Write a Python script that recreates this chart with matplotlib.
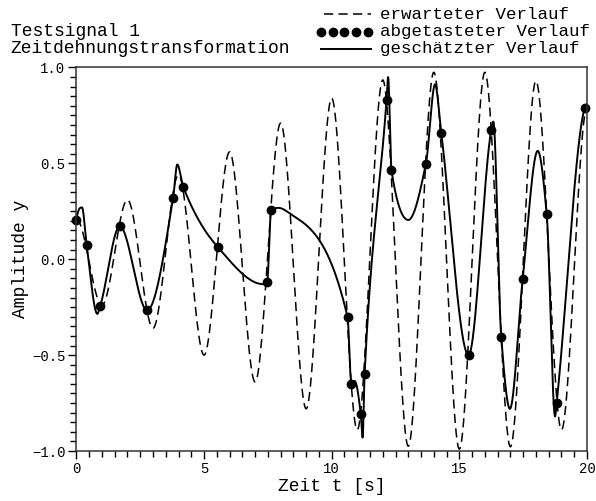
import numpy as np
import matplotlib
matplotlib.use('Agg')
import matplotlib.pyplot as plt
from matplotlib.lines import Line2D
from matplotlib.ticker import MultipleLocator, FuncFormatter

plt.rcParams['font.family'] = ['Liberation Mono', 'DejaVu Sans Mono']

soll_t = [0, 1, 2, 3, 4, 5, 6, 7, 8, 9, 10, 11, 12, 13, 14, 15, 16, 17, 18, 19, 20]
soll_y = [0.21, -0.24, 0.31, -0.36, 0.44, -0.50, 0.56, -0.64, 0.71, -0.78, 0.84,
          -0.89, 0.935, -0.975, 0.975, -0.99, 0.975, -0.978, 0.93, -0.89, 0.79]

# abgetasteter Verlauf: Abtastpunkte
abt_t = [0.0, 0.40, 0.93, 1.70, 2.77, 3.79, 4.19, 5.54, 7.47, 7.63, 10.62, 10.77,
         11.14, 11.29, 12.15, 12.34, 13.69, 14.29, 15.36, 16.25, 16.64, 17.48,
         18.42, 18.81, 19.92]
abt_y = [0.205, 0.076, -0.245, 0.172, -0.266, 0.321, 0.376, 0.063, -0.12, 0.256,
         -0.301, -0.65, -0.809, -0.597, 0.833, 0.464, 0.499, 0.660, -0.50, 0.673,
         -0.405, -0.104, 0.238, -0.75, 0.79]

# geschätzter Verlauf: zusätzliche abgelesene Stützpunkte (Extrema usw.)
sch_t_extra = [0.22, 0.82, 3.95, 7.32, 7.91, 8.35,
               10.90, 11.21, 12.21, 13.0, 14.05, 16.33, 16.98, 18.07, 18.75, 20.0]
sch_y_extra = [0.27, -0.285, 0.494, -0.13, 0.268, 0.24,
               -0.635, -0.93, 0.95, 0.205, 0.912, 0.718, -0.78, 0.565, -0.82, 0.81]


def pchip(x, y, xn, flat_ends=False):
    """monotone kubische Hermite-Interpolation (wie scipy PchipInterpolator)"""
    x = np.asarray(x, float)
    y = np.asarray(y, float)
    h = np.diff(x)
    d = np.diff(y) / h
    m = np.zeros_like(y)
    for k in range(1, len(x) - 1):
        if d[k - 1] * d[k] > 0:
            w1 = 2 * h[k] + h[k - 1]
            w2 = h[k] + 2 * h[k - 1]
            m[k] = (w1 + w2) / (w1 / d[k - 1] + w2 / d[k])
    if not flat_ends:
        for i0, (ha, hb, da, db) in ((0, (h[0], h[1], d[0], d[1])),
                                     (-1, (h[-1], h[-2], d[-1], d[-2]))):
            v = ((2 * ha + hb) * da - ha * db) / (ha + hb)
            if np.sign(v) != np.sign(da):
                v = 0.0
            elif np.sign(da) != np.sign(db) and abs(v) > abs(3 * da):
                v = 3 * da
            m[i0] = v
    idx = np.clip(np.searchsorted(x, xn) - 1, 0, len(x) - 2)
    hh = h[idx]
    s = (xn - x[idx]) / hh
    h00 = 2 * s**3 - 3 * s**2 + 1
    h10 = s**3 - 2 * s**2 + s
    h01 = -2 * s**3 + 3 * s**2
    h11 = s**3 - s**2
    return h00 * y[idx] + h10 * hh * m[idx] + h01 * y[idx + 1] + h11 * hh * m[idx + 1]


tt = np.linspace(0, 20, 2001)
soll_kurve = pchip(soll_t, soll_y, tt, flat_ends=True)

sch_t = np.array(abt_t + sch_t_extra)
sch_y = np.array(abt_y + sch_y_extra)
order = np.argsort(sch_t)
sch_kurve = pchip(sch_t[order], sch_y[order], tt)

fig = plt.figure(figsize=(5.96, 5.01), dpi=100)
ax = fig.add_axes([0.1282, 0.0998, 0.8567, 0.7655])

ax.plot(tt, soll_kurve, color='black', linewidth=1.1, linestyle=(0, (6, 3.5)))
ax.plot(tt, sch_kurve, color='black', linewidth=1.4)
ax.plot(abt_t, abt_y, 'o', color='black', markersize=6, clip_on=False)

ax.set_xlim(0, 20)
ax.set_ylim(-1, 1)
ax.xaxis.set_major_locator(MultipleLocator(5))
ax.xaxis.set_minor_locator(MultipleLocator(0.5))
ax.yaxis.set_major_locator(MultipleLocator(0.5))
ax.yaxis.set_minor_locator(MultipleLocator(0.05))
ax.yaxis.set_major_formatter(FuncFormatter(lambda v, p: f'{v:.1f}'.replace('-', '\u2212')))
ax.tick_params(which='major', direction='out', length=6, width=1, labelsize=10, pad=2)
ax.tick_params(which='minor', direction='out', length=4, width=1)
for sp in ax.spines.values():
    sp.set_linewidth(1.1)
    sp.set_color('#333333')

ax.set_xlabel('Zeit t [s]', fontsize=13, labelpad=1)
ax.set_ylabel('Amplitude y', fontsize=13, labelpad=2)

# Kopfzeilen (Grundlinien in Pixeln: 36 und 53)
zeilen_y = [1 - 18.7 / 501, 1 - 36 / 501, 1 - 53.3 / 501]
fig.text(0.018, zeilen_y[1], 'Testsignal 1', fontsize=13, va='baseline', ha='left')
fig.text(0.018, zeilen_y[2], 'Zeitdehnungstransformation', fontsize=13, va='baseline', ha='left')

# Legende
leg_txt = ['erwarteter Verlauf', 'abgetasteter Verlauf', 'geschätzter Verlauf']
sym_y = [yy + 4.5 / 501 for yy in zeilen_y]
x0, x1, xt = 0.538, 0.622, 0.637
fig.add_artist(Line2D([x0 + 0.005, x1], [sym_y[0]] * 2, transform=fig.transFigure,
                      color='black', linewidth=1.1, linestyle=(0, (6, 3.5))))
fig.add_artist(Line2D(np.linspace(x0, x1 - 0.004, 5), [sym_y[1]] * 5,
                      transform=fig.transFigure, color='black', linestyle='none',
                      marker='o', markersize=6))
fig.add_artist(Line2D([x0, x1], [sym_y[2]] * 2, transform=fig.transFigure,
                      color='black', linewidth=1.4))
for yy, s in zip(zeilen_y, leg_txt):
    fig.text(xt, yy, s, fontsize=12.6, va='baseline', ha='left')

fig.savefig('out.png', dpi=100)
